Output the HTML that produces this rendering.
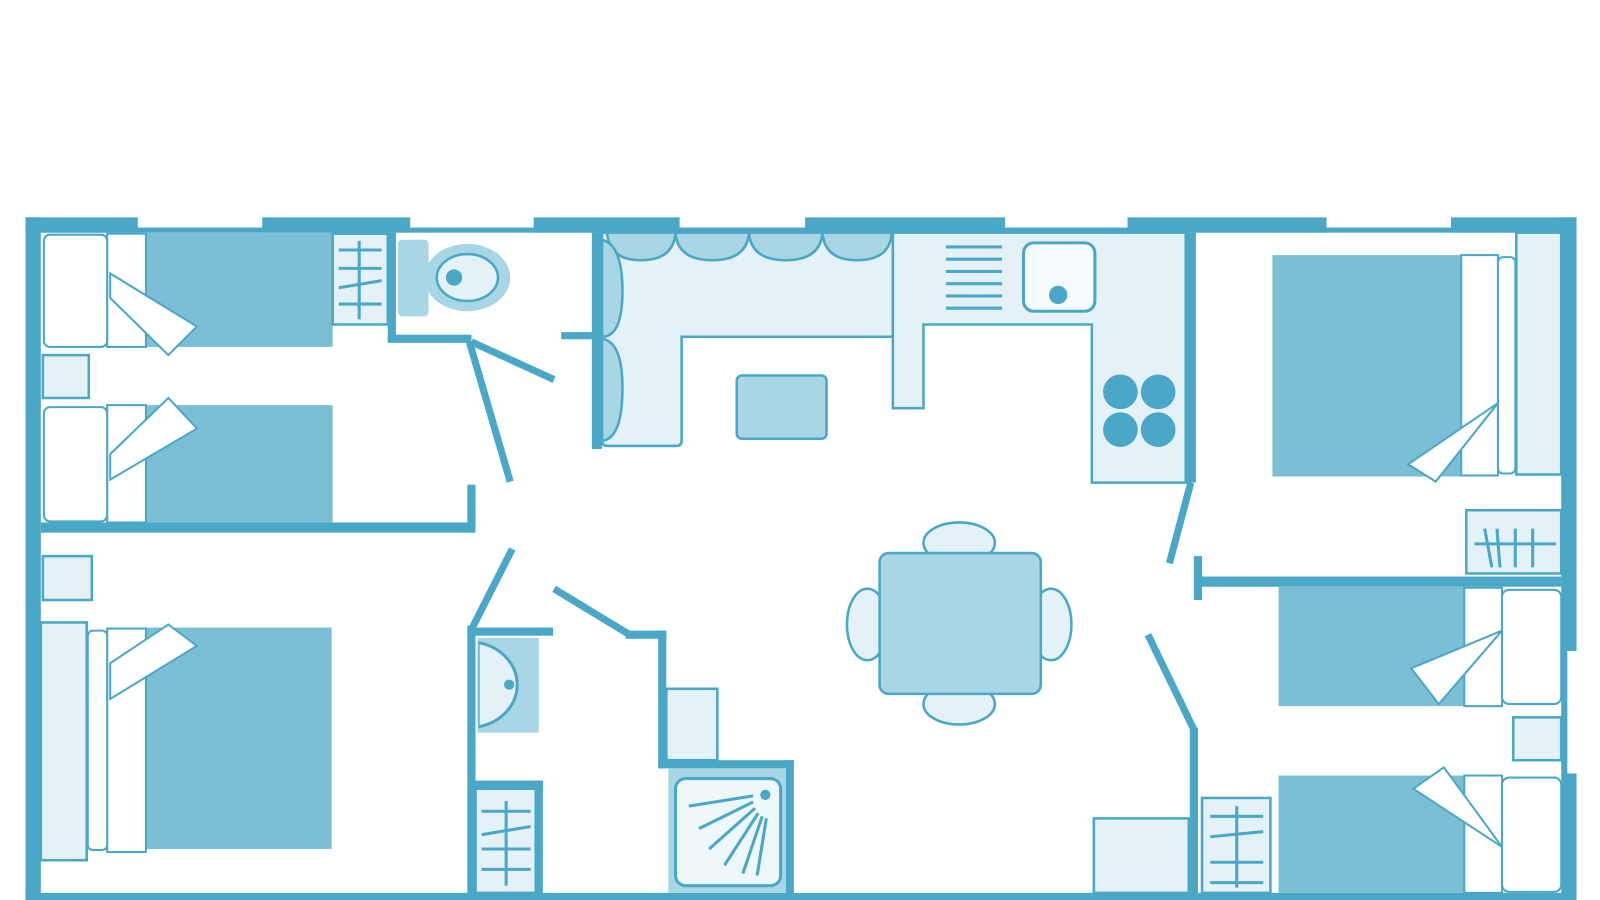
<!DOCTYPE html>
<html><head><meta charset="utf-8"><style>
html,body{margin:0;padding:0;background:#fff;width:1600px;height:900px;overflow:hidden}
svg{display:block}
</style></head><body>
<svg width="1600" height="900" viewBox="0 0 1568 882" preserveAspectRatio="none" xmlns="http://www.w3.org/2000/svg">
<defs><style>
.w{fill:#4aa8c6}
.s{stroke:#4aa8c6;fill:none}
.lf{fill:#e4f2f7;stroke:#4aa8c6;stroke-width:2.5}
.mf{fill:#a9d6e4;stroke:#4aa8c6;stroke-width:2.5}
.dk{fill:#7cbfd5}
.wh{fill:#fff;stroke:#4aa8c6;stroke-width:2}
</style></defs>

<!-- outer walls -->
<rect class="w" x="25" y="213" width="15" height="669"/>
<rect class="w" x="25" y="223" width="1520" height="5"/>
<rect class="w" x="25" y="213" width="110" height="15"/>
<rect class="w" x="257" y="213" width="145" height="15"/>
<rect class="w" x="523" y="213" width="143" height="15"/>
<rect class="w" x="789" y="213" width="196" height="15"/>
<rect class="w" x="1105" y="213" width="195" height="15"/>
<rect class="w" x="1422" y="213" width="123" height="15"/>
<rect class="w" x="1530" y="213" width="15" height="425"/>
<rect class="w" x="1530" y="638" width="6" height="120"/>
<rect class="w" x="1530" y="758" width="15" height="124"/>
<rect class="w" x="25" y="875" width="1520" height="7"/>

<!-- top-left bedroom -->
<rect class="dk" x="143" y="228" width="183" height="112"/>
<rect class="wh" x="105" y="229" width="38" height="111"/>
<rect class="wh" x="43" y="230" width="62" height="110" rx="6"/>
<polygon class="wh" points="108,268 193,320 165,348 108,292"/>
<rect class="lf" x="326" y="229" width="54" height="89"/>
<g class="s" stroke-width="3"><line x1="332" y1="245" x2="374" y2="245"/><line x1="332" y1="263" x2="374" y2="263"/><line x1="332" y1="282" x2="374" y2="275"/><line x1="332" y1="298" x2="374" y2="298"/><line x1="352" y1="236" x2="352" y2="313"/></g>
<rect class="lf" x="42" y="348" width="45" height="42"/>
<rect class="dk" x="143" y="397" width="183" height="115"/>
<rect class="wh" x="105" y="397" width="38" height="115"/>
<rect class="wh" x="43" y="399" width="62" height="112" rx="6"/>
<polygon class="wh" points="108,470 193,420 165,390 108,445"/>
<rect class="w" x="40" y="512" width="425" height="10"/>
<rect class="w" x="458" y="475" width="8" height="47"/>
<rect class="w" x="380" y="228" width="8" height="107"/>
<rect class="w" x="380" y="328" width="82" height="8"/>
<g class="s" stroke-width="7"><line x1="460" y1="335" x2="500" y2="472"/><line x1="462" y1="335" x2="543" y2="372"/></g>
<line class="s" stroke-width="7" x1="550" y1="329" x2="586" y2="329"/>

<!-- WC -->
<rect x="390" y="235" width="30" height="75" rx="4" fill="#a9d6e4"/>
<ellipse cx="458" cy="272" rx="42" ry="33" fill="#a9d6e4"/>
<ellipse cx="458" cy="272" rx="30" ry="23" fill="#e4f2f7" stroke="#4aa8c6" stroke-width="2.5"/>
<circle cx="445" cy="272" r="8" fill="#4aa8c6"/>

<!-- sofa -->
<rect class="w" x="580" y="228" width="10" height="212"/>
<path class="lf" d="M590,228 H875 V330 H668 V432 Q668,437 662,437 H596 Q590,437 590,432 Z"/>
<g class="mf"><path d="M595,228 Q597,255 628,255 Q660,255 662,228 Z"/><path d="M662,228 Q664,255 698,255 Q732,255 734,228 Z"/><path d="M734,228 Q736,255 770,255 Q804,255 806,228 Z"/><path d="M806,228 Q808,255 840,255 Q872,255 874,228 Z"/><path d="M590,235 Q610,240 610,285 Q610,330 590,330 Z"/><path d="M590,332 Q610,335 610,380 Q610,430 590,432 Z"/></g>
<rect class="mf" x="722" y="368" width="88" height="62" rx="5"/>

<!-- kitchen -->
<path class="lf" d="M875,228 H1162 V473 H1070 V318 H905 V400 H875 Z"/>
<g class="s" stroke-width="3"><line x1="927" y1="242" x2="982" y2="242"/><line x1="927" y1="254" x2="982" y2="254"/><line x1="927" y1="266" x2="982" y2="266"/><line x1="927" y1="278" x2="982" y2="278"/><line x1="927" y1="290" x2="982" y2="290"/><line x1="927" y1="302" x2="982" y2="302"/></g>
<rect x="1003" y="238" width="70" height="67" rx="10" fill="#f6fbfd" stroke="#4aa8c6" stroke-width="3"/>
<circle cx="1037" cy="289" r="9" fill="#4aa8c6"/>
<g fill="#4aa8c6"><circle cx="1098" cy="384" r="17"/><circle cx="1135" cy="384" r="17"/><circle cx="1098" cy="421" r="17"/><circle cx="1135" cy="421" r="17"/></g>
<rect class="w" x="1162" y="228" width="10" height="245"/>
<line class="s" stroke-width="7" x1="1167" y1="473" x2="1146" y2="552"/>

<!-- right top bedroom -->
<rect class="dk" x="1247" y="250" width="185" height="217"/>
<rect class="wh" x="1432" y="250" width="36" height="216"/>
<rect class="wh" x="1468" y="252" width="17" height="212" rx="5"/>
<rect class="lf" x="1486" y="228" width="44" height="237"/>
<polygon class="wh" points="1468,395 1407,472 1380,455"/>
<rect class="lf" x="1437" y="500" width="93" height="62"/>
<g class="s" stroke-width="3"><line x1="1445" y1="533" x2="1525" y2="533"/><line x1="1455" y1="518" x2="1462" y2="556"/><line x1="1467" y1="518" x2="1470" y2="556"/><line x1="1485" y1="518" x2="1485" y2="556"/><line x1="1502" y1="518" x2="1502" y2="556"/></g>
<rect class="w" x="1172" y="565" width="358" height="10"/>
<rect class="w" x="1170" y="545" width="8" height="43"/>

<!-- right bottom bedroom -->
<rect class="dk" x="1253" y="575" width="182" height="117"/>
<rect class="wh" x="1435" y="576" width="37" height="116"/>
<rect class="wh" x="1472" y="578" width="58" height="112" rx="7"/>
<polygon class="wh" points="1472,618 1383,655 1410,690"/>
<rect class="lf" x="1483" y="703" width="47" height="42"/>
<rect class="dk" x="1253" y="760" width="182" height="115"/>
<rect class="wh" x="1435" y="760" width="37" height="115"/>
<rect class="wh" x="1472" y="762" width="58" height="112" rx="7"/>
<polygon class="wh" points="1472,830 1385,773 1415,752"/>
<rect class="lf" x="1178" y="782" width="67" height="93"/>
<g class="s" stroke-width="3"><line x1="1186" y1="800" x2="1238" y2="800"/><line x1="1186" y1="820" x2="1238" y2="815"/><line x1="1186" y1="845" x2="1238" y2="845"/><line x1="1186" y1="865" x2="1238" y2="865"/><line x1="1212" y1="790" x2="1212" y2="870"/></g>
<rect class="lf" x="1072" y="802" width="93" height="73"/>
<g class="s" stroke-width="7"><line x1="1125" y1="622" x2="1170" y2="715"/></g>
<rect class="w" x="1166" y="713" width="8" height="169"/>

<!-- dining -->
<g class="lf"><ellipse cx="940" cy="532" rx="35" ry="20"/><ellipse cx="940" cy="690" rx="35" ry="20"/><ellipse cx="850" cy="612" rx="20" ry="35"/><ellipse cx="1030" cy="612" rx="20" ry="35"/></g>
<rect class="mf" x="862" y="542" width="158" height="138" rx="9"/>

<!-- bottom-left bedroom -->
<rect class="lf" x="42" y="545" width="48" height="43"/>
<rect class="dk" x="143" y="615" width="182" height="217"/>
<rect class="wh" x="105" y="616" width="38" height="219"/>
<rect class="wh" x="86" y="618" width="19" height="215" rx="5"/>
<rect class="lf" x="40" y="610" width="45" height="233"/>
<polygon class="wh" points="108,685 193,633 165,612 108,650"/>

<!-- bathroom -->
<line class="s" stroke-width="7" x1="502" y1="538" x2="463" y2="615"/>
<rect class="w" x="458" y="613" width="8" height="269"/>
<rect class="w" x="458" y="615" width="84" height="8"/>
<rect x="468" y="625" width="60" height="93" fill="#a9d6e4"/>
<path d="M470,630 A45,45 0 0 1 470,712 Z" fill="#e4f2f7" stroke="#4aa8c6" stroke-width="2.5"/>
<path d="M470,630 A47,42 0 0 1 470,712" fill="#e4f2f7" stroke="#4aa8c6" stroke-width="3"/>
<circle cx="499" cy="671" r="5" fill="#4aa8c6"/>
<rect class="w" x="466" y="765" width="66" height="8"/>
<rect class="w" x="525" y="765" width="7" height="117"/>
<rect class="lf" x="466" y="773" width="59" height="102"/>
<g class="s" stroke-width="3"><line x1="472" y1="795" x2="520" y2="795"/><line x1="472" y1="818" x2="520" y2="810"/><line x1="472" y1="832" x2="520" y2="832"/><line x1="472" y1="852" x2="520" y2="852"/><line x1="496" y1="785" x2="496" y2="868"/></g>
<line class="s" stroke-width="7" x1="543" y1="577" x2="617" y2="622"/>
<rect class="w" x="613" y="618" width="40" height="8"/>
<rect class="w" x="645" y="618" width="8" height="135"/>
<rect class="w" x="645" y="745" width="133" height="8"/>
<rect class="w" x="770" y="745" width="8" height="137"/>
<rect class="lf" x="653" y="675" width="50" height="70"/>
<rect x="655" y="753" width="115" height="122" fill="#a9d6e4"/>
<rect x="662" y="763" width="103" height="105" rx="10" fill="#eef7fa" stroke="#4aa8c6" stroke-width="3"/>
<circle cx="750" cy="779" r="5" fill="#4aa8c6"/>
<g class="s" stroke-width="3"><line x1="738" y1="780" x2="675" y2="790"/><line x1="738" y1="786" x2="685" y2="812"/><line x1="740" y1="792" x2="695" y2="832"/><line x1="743" y1="797" x2="710" y2="848"/><line x1="747" y1="800" x2="728" y2="856"/><line x1="751" y1="802" x2="742" y2="858"/></g>
</svg>
</body></html>
